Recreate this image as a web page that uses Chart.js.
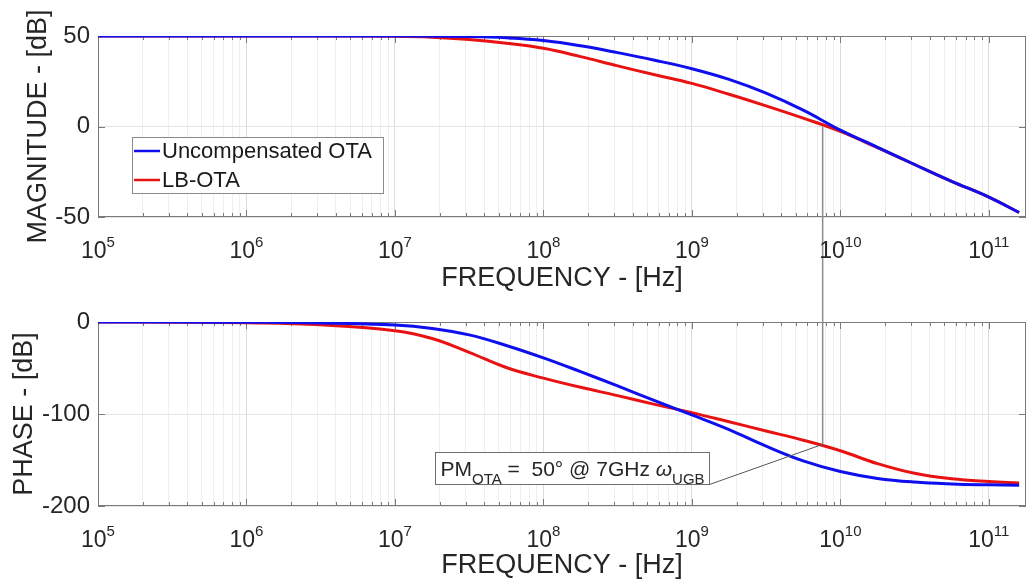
<!DOCTYPE html>
<html lang="en">
<head>
<meta charset="UTF-8">
<title>Bode plot - Uncompensated OTA vs LB-OTA</title>
<script src="https://cdn.jsdelivr.net/npm/chart.js"></script>
<style>
    body {
        margin: 0;
        background: #fff;
        width: 1028px;
        height: 582px;
        overflow: hidden;
    }
    .plot {
        position: absolute;
        left: 0;
        width: 1028px;
    }
    #magBox { top: 0; height: 292px; }
    #phaseBox { top: 292px; height: 290px; }
</style>
</head>
<body>
<div class="plot" id="magBox"><canvas id="magChart"></canvas></div>
<div class="plot" id="phaseBox"><canvas id="phaseChart"></canvas></div>

<script>
// frequency points (Hz), about four per decade
const freqHz = [1e5, 3.16e5, 1e6, 3.16e6, 1e7, 1.78e7, 3.16e7, 5.62e7,
                1e8, 1.78e8, 3.16e8, 5.62e8, 1e9, 1.78e9, 3.16e9, 5.62e9,
                1e10, 1.78e10, 3.16e10, 5.62e10, 1e11, 1.6e11];

// magnitude, dB
const magUncomp = [50, 50, 50, 50, 50, 49.9, 49.7, 49, 47.5, 44.6, 40.8, 36.6,
                   31.9, 26, 18.4, 9, -2, -11.5, -21, -30.3, -39, -47.5];
const magLB = [50, 50, 50, 50, 49.8, 49.3, 48, 46, 43.2, 38.6, 33.5, 28.6,
               23.8, 17.8, 11.4, 4.6, -2.7, -11.7, -21, -30.3, -39, -47.5];

// phase, degrees
const phaseUncomp = [0, -0.1, -0.3, -1, -3.3, -7, -14, -25.5, -39, -54, -69.5, -85.5,
                     -101, -117, -135, -151, -162.5, -170, -174, -176, -177, -177.5];
const phaseLB = [0, -0.2, -0.8, -3, -9.5, -18, -33, -49.5, -61, -71, -80, -89.5,
                 -98.5, -108.5, -118.5, -128.5, -140, -154, -164.5, -170.5, -173.5, -175];

const seriesNames = ['Uncompensated OTA', 'LB-OTA'];
const decadeExps = [5, 6, 7, 8, 9, 10, 11];
const magTicks = [-50, 0, 50];
const phaseTicks = [-200, -100, 0];

// unity gain crossing of the LB-OTA and its phase there
const ugbFreq = 7.6e9;
const pmPhase = -133;
const noteText = ['PM', 'OTA', ' =  50\u00b0 @ 7GHz ', '\u03c9', 'UGB'];

const family = "'Liberation Sans', Arial, sans-serif";
const textColor = '#262626';
const blue = 'rgb(14,14,238)';
const red = 'rgb(232,18,18)';

Chart.defaults.font.family = family;
Chart.defaults.color = textColor;

function pts(ys) {
    return freqHz.map((f, i) => ({ x: f, y: ys[i] }));
}

function lineSet(label, ys, color) {
    return {
        label: label,
        data: pts(ys),
        borderColor: color,
        backgroundColor: color,
        borderWidth: 3,
        pointRadius: 0,
        tension: 0.4
    };
}

function xAxis(height) {
    return {
        type: 'logarithmic',
        min: 1e5,
        max: 1.78e11,
        afterBuildTicks(scale) {
            const t = [];
            decadeExps.forEach(e => {
                for (let m = 1; m <= 9; m++) {
                    const v = m * Math.pow(10, e);
                    if (v >= scale.min && v <= scale.max) t.push({ value: v, major: m === 1 });
                }
            });
            scale.ticks = t;
        },
        ticks: { display: false },
        grid: {
            color: c => (c.tick && c.tick.major) ? '#dcdcdc' : '#efefef',
            drawTicks: false
        },
        border: { display: false },
        title: {
            display: true,
            text: 'FREQUENCY - [Hz]',
            font: { size: 27, lineHeight: 1 },
            padding: 0,
            color: textColor
        },
        afterFit(scale) { scale.height = height; }
    };
}

function yAxis(min, max, tickVals, title, width) {
    return {
        min: min,
        max: max,
        afterBuildTicks(scale) { scale.ticks = tickVals.map(v => ({ value: v })); },
        ticks: { font: { size: 24 }, color: textColor, padding: 8 },
        grid: { color: '#e4e4e4', drawTicks: false },
        border: { display: false },
        title: {
            display: true,
            text: title,
            font: { size: 27, lineHeight: 1 },
            padding: 0,
            color: textColor
        },
        afterFit(scale) { scale.width = width; }
    };
}

// MATLAB-like box, inward ticks and 10^n labels
const frame = {
    id: 'frame',
    beforeDatasetsDraw(chart) {
        const { ctx, chartArea: a, scales: { x, y } } = chart;
        ctx.save();
        ctx.strokeStyle = '#7a7a7a';
        ctx.lineWidth = 1;
        ctx.strokeRect(a.left + 0.5, a.top + 0.5, a.width - 1, a.height - 1);
        ctx.beginPath();
        x.ticks.forEach(t => {
            const px = Math.round(x.getPixelForValue(t.value)) + 0.5;
            const len = t.major ? 7 : 4;
            ctx.moveTo(px, a.bottom); ctx.lineTo(px, a.bottom - len);
            ctx.moveTo(px, a.top); ctx.lineTo(px, a.top + len);
        });
        y.ticks.forEach(t => {
            const py = Math.round(y.getPixelForValue(t.value)) + 0.5;
            ctx.moveTo(a.left, py); ctx.lineTo(a.left + 7, py);
            ctx.moveTo(a.right, py); ctx.lineTo(a.right - 7, py);
        });
        ctx.stroke();
        ctx.restore();
    },
    afterDraw(chart) {
        const { ctx, chartArea: a, scales: { x } } = chart;
        ctx.save();
        ctx.fillStyle = textColor;
        ctx.textAlign = 'left';
        ctx.textBaseline = 'alphabetic';
        x.ticks.filter(t => t.major).forEach(t => {
            const exp = String(Math.round(Math.log10(t.value)));
            ctx.font = '23px ' + family;
            const bw = ctx.measureText('10').width;
            ctx.font = '15px ' + family;
            const ew = ctx.measureText(exp).width;
            const left = x.getPixelForValue(t.value) - (bw + ew) / 2;
            const base = a.bottom + 41;
            ctx.font = '23px ' + family;
            ctx.fillText('10', left, base);
            ctx.font = '15px ' + family;
            ctx.fillText(exp, left + bw, base - 11);
        });
        ctx.restore();
    }
};

const legendBox = {
    id: 'legendBox',
    afterDraw(chart) {
        const { ctx, chartArea: a } = chart;
        const bx = a.left + 34, by = a.top + 101, bw = 251, bh = 56;
        ctx.save();
        ctx.fillStyle = '#fff';
        ctx.fillRect(bx, by, bw, bh);
        ctx.strokeStyle = '#8a8a8a';
        ctx.lineWidth = 1;
        ctx.strokeRect(bx + 0.5, by + 0.5, bw, bh);
        ctx.font = '22px ' + family;
        ctx.textBaseline = 'middle';
        chart.data.datasets.forEach((ds, i) => {
            const cy = by + 14 + i * 29;
            ctx.strokeStyle = ds.borderColor;
            ctx.lineWidth = 2.5;
            ctx.beginPath();
            ctx.moveTo(bx + 2, cy);
            ctx.lineTo(bx + 28, cy);
            ctx.stroke();
            ctx.fillStyle = '#1a1a1a';
            ctx.fillText(ds.label, bx + 30, cy + 1);
        });
        ctx.restore();
    }
};

// vertical marker, upper half: from 0 dB down to the bottom of the canvas
const ugbTop = {
    id: 'ugbTop',
    afterDatasetsDraw(chart) {
        const { ctx, scales: { x, y } } = chart;
        const px = x.getPixelForValue(ugbFreq);
        ctx.save();
        ctx.strokeStyle = '#8c8c8c';
        ctx.lineWidth = 1.5;
        ctx.beginPath();
        ctx.moveTo(px, y.getPixelForValue(0));
        ctx.lineTo(px, chart.height);
        ctx.stroke();
        ctx.restore();
    }
};

// vertical marker, lower half, plus the phase margin note
const ugbBottom = {
    id: 'ugbBottom',
    afterDatasetsDraw(chart) {
        const { ctx, scales: { x, y } } = chart;
        const px = x.getPixelForValue(ugbFreq);
        const py = y.getPixelForValue(pmPhase);
        ctx.save();
        ctx.strokeStyle = '#8c8c8c';
        ctx.lineWidth = 1.5;
        ctx.beginPath();
        ctx.moveTo(px, 0);
        ctx.lineTo(px, py);
        ctx.stroke();

        // note box
        const bx = Math.round(x.getPixelForValue(1.86e7)) + 0.5;
        const by = Math.round(y.getPixelForValue(-141)) + 0.5;
        const big = '21px ' + family, small = '15px ' + family, ital = 'italic 21px ' + family;
        const parts = [[noteText[0], big, 0], [noteText[1], small, 8], [noteText[2], big, 0],
                       [noteText[3], ital, 0], [noteText[4], small, 8]];
        let w = 0;
        parts.forEach(p => { ctx.font = p[1]; w += ctx.measureText(p[0]).width; });
        const bw = Math.round(w + 10), bh = 32;
        ctx.fillStyle = '#fff';
        ctx.fillRect(bx, by, bw, bh);
        ctx.strokeStyle = '#6e6e6e';
        ctx.lineWidth = 1;
        ctx.strokeRect(bx, by, bw, bh);

        ctx.fillStyle = textColor;
        ctx.textBaseline = 'alphabetic';
        let tx = bx + 5;
        parts.forEach(p => {
            ctx.font = p[1];
            ctx.fillText(p[0], tx, by + 23 + p[2]);
            tx += ctx.measureText(p[0]).width;
        });

        // leader line from the box corner to the curve
        ctx.strokeStyle = '#555';
        ctx.lineWidth = 1;
        ctx.beginPath();
        ctx.moveTo(bx + bw, by + bh);
        ctx.lineTo(px, py);
        ctx.stroke();
        ctx.restore();
    }
};

const baseOptions = {
    responsive: true,
    maintainAspectRatio: false,
    animation: false,
    events: [],
    plugins: { legend: { display: false }, tooltip: { enabled: false } }
};

new Chart(document.getElementById('magChart'), {
    type: 'line',
    data: {
        datasets: [
            lineSet(seriesNames[0], magUncomp, blue),
            lineSet(seriesNames[1], magLB, red)
        ]
    },
    options: Object.assign({}, baseOptions, {
        layout: { padding: { top: 36, left: 25, right: 2, bottom: 0 } },
        scales: {
            x: xAxis(75),
            y: yAxis(-50, 50, magTicks, 'MAGNITUDE - [dB]', 73)
        }
    }),
    plugins: [frame, ugbTop, legendBox]
});

new Chart(document.getElementById('phaseChart'), {
    type: 'line',
    data: {
        datasets: [
            lineSet(seriesNames[0], phaseUncomp, blue),
            lineSet(seriesNames[1], phaseLB, red)
        ]
    },
    options: Object.assign({}, baseOptions, {
        layout: { padding: { top: 30, left: 11, right: 2, bottom: 3 } },
        scales: {
            x: xAxis(73),
            y: yAxis(-200, 0, phaseTicks, 'PHASE - [dB]', 87)
        }
    }),
    plugins: [frame, ugbBottom]
});
</script>
</body>
</html>
